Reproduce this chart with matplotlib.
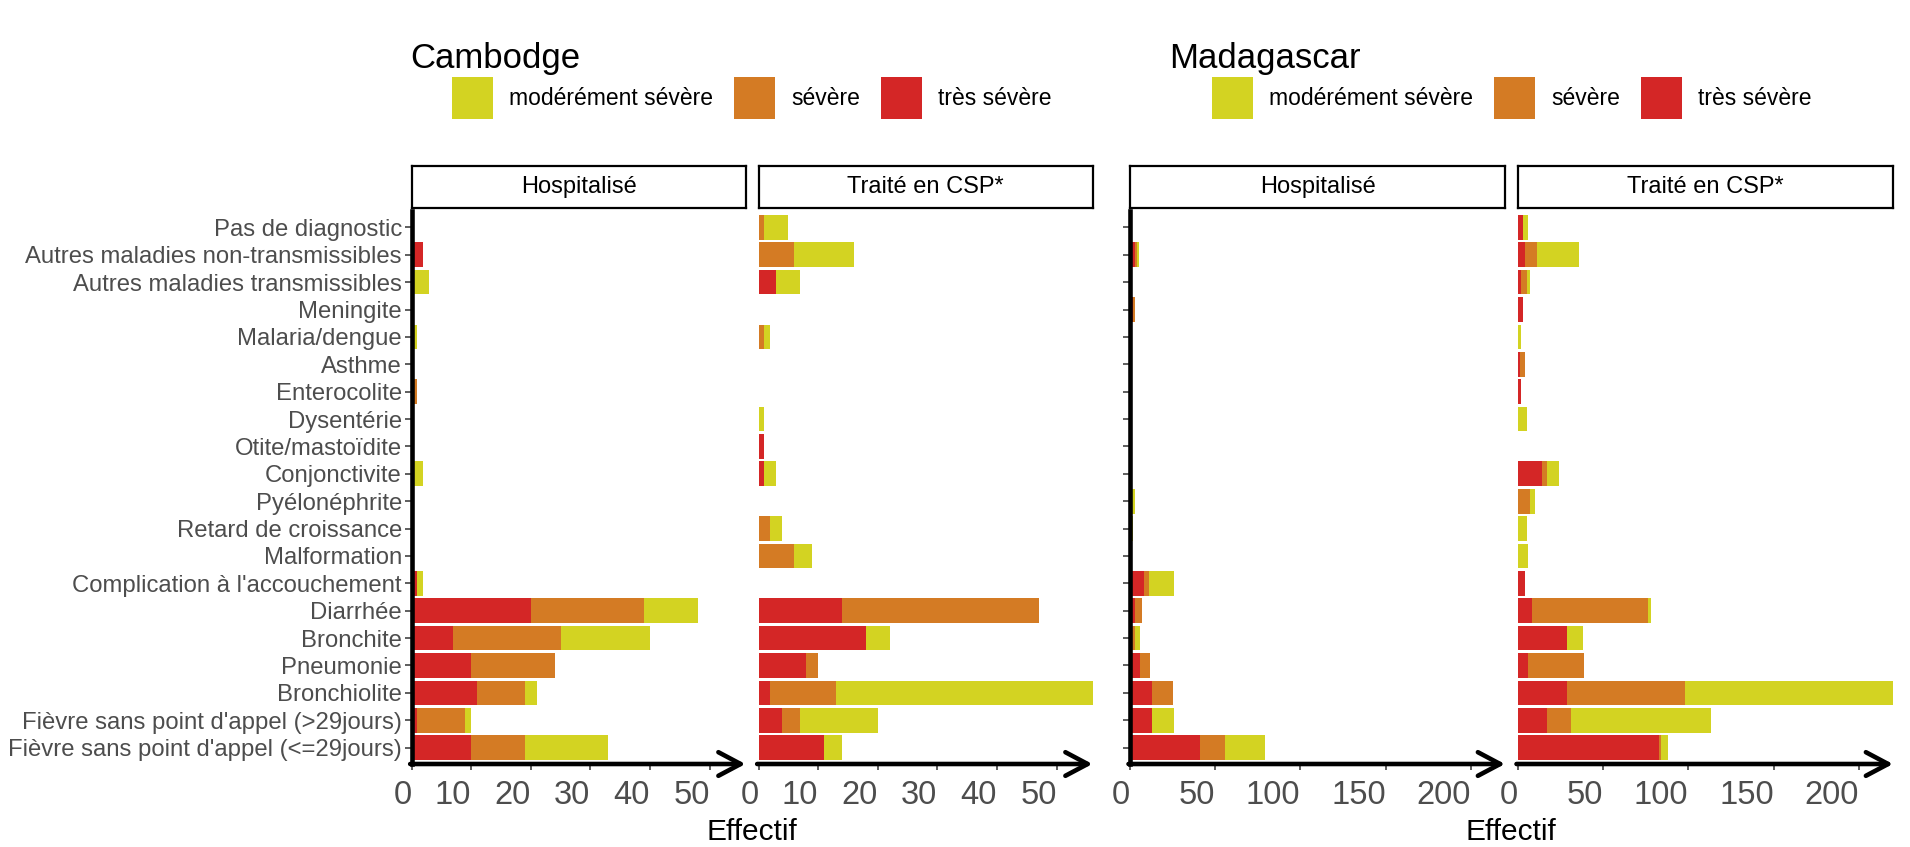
import numpy as np
import matplotlib.pyplot as plt
from matplotlib.patches import Patch

plt.rcParams['font.family'] = ['Liberation Sans', 'DejaVu Sans']

categories = [
    "Pas de diagnostic", "Autres maladies non-transmissibles",
    "Autres maladies transmissibles", "Meningite", "Malaria/dengue",
    "Asthme", "Enterocolite", "Dysentérie", "Otite/mastoïdite",
    "Conjonctivite", "Pyélonéphrite", "Retard de croissance",
    "Malformation", "Complication à l'accouchement", "Diarrhée",
    "Bronchite", "Pneumonie", "Bronchiolite",
    "Fièvre sans point d'appel (>29jours)",
    "Fièvre sans point d'appel (<=29jours)",
]
severites = ["modérément sévère", "sévère", "très sévère"]
couleurs = {"très sévère": "#D42626", "sévère": "#D47B24", "modérément sévère": "#D3D322"}
facettes = ["Hospitalisé", "Traité en CSP*"]

# Cambodge
cam_hosp_tres = [0, 2, 0, 0, 0, 0, 0, 0, 0, 0, 0, 0, 0, 1, 20, 7, 10, 11, 1, 10]
cam_hosp_sev = [0, 0, 0, 0, 0, 0, 1, 0, 0, 0, 0, 0, 0, 0, 19, 18, 14, 8, 8, 9]
cam_hosp_mod = [0, 0, 3, 0, 1, 0, 0, 0, 0, 2, 0, 0, 0, 1, 9, 15, 0, 2, 1, 14]
cam_csp_tres = [0, 0, 3, 0, 0, 0, 0, 0, 1, 1, 0, 0, 0, 0, 14, 18, 8, 2, 4, 11]
cam_csp_sev = [1, 6, 0, 0, 1, 0, 0, 0, 0, 0, 0, 2, 6, 0, 33, 0, 2, 11, 3, 0]
cam_csp_mod = [4, 10, 4, 0, 1, 0, 0, 1, 0, 2, 0, 2, 3, 0, 0, 4, 0, 43, 13, 3]

# Madagascar
mad_hosp_tres = [0, 3, 0, 2, 0, 0, 0, 0, 0, 0, 0, 0, 0, 8, 3, 1, 6, 13, 13, 41]
mad_hosp_sev = [0, 1, 0, 1, 0, 0, 0, 0, 0, 0, 0, 0, 0, 3, 4, 2, 6, 12, 0, 15]
mad_hosp_mod = [0, 1, 0, 0, 0, 0, 0, 0, 0, 0, 3, 2, 0, 15, 0, 3, 0, 0, 13, 23]
mad_csp_tres = [3, 4, 2, 3, 0, 1, 2, 0, 0, 14, 0, 0, 0, 4, 8, 29, 6, 29, 17, 83]
mad_csp_sev = [0, 7, 3, 0, 0, 3, 0, 0, 0, 3, 7, 0, 0, 0, 68, 0, 33, 69, 14, 1]
mad_csp_mod = [3, 25, 2, 0, 2, 0, 0, 5, 0, 7, 3, 5, 6, 0, 2, 9, 0, 122, 82, 4]

pays = [
    ("Cambodge", [(cam_hosp_tres, cam_hosp_sev, cam_hosp_mod),
                  (cam_csp_tres, cam_csp_sev, cam_csp_mod)], [0, 10, 20, 30, 40, 50]),
    ("Madagascar", [(mad_hosp_tres, mad_hosp_sev, mad_hosp_mod),
                    (mad_csp_tres, mad_csp_sev, mad_csp_mod)], [0, 50, 100, 150, 200]),
]

W, H = 1910, 847
fig = plt.figure(figsize=(W / 100, H / 100), dpi=100)

# panel layout in pixels (left, width)
panel_px = [[(411.5, 334), (758.5, 334)], [(1130, 375), (1518, 375)]]
titre_x = [410, 1169]
legende_x = [452, 1212]
effectif_x = [752, 1511]
top_px, bot_px = 211, 764
strip_top, strip_bot = 166, 208

y = np.arange(len(categories))
gris = "#4D4D4D"

for p, (nom, donnees, ticks) in enumerate(pays):
    xmax = max((np.array(a) + np.array(b) + np.array(c)).max() for a, b, c in donnees)
    for f, (tres, sev, mod) in enumerate(donnees):
        left, width = panel_px[p][f]
        ax = fig.add_axes([left / W, 1 - bot_px / H, width / W, (bot_px - top_px) / H])
        gauche = np.zeros(len(categories))
        for nom_sev, vals in [("très sévère", tres), ("sévère", sev), ("modérément sévère", mod)]:
            ax.barh(y, vals, left=gauche, height=0.9, color=couleurs[nom_sev], linewidth=0)
            gauche += np.array(vals)
        ax.set_xlim(0, xmax)
        ax.set_ylim(len(categories) - 0.4, -0.6)
        for s in ["top", "right", "bottom"]:
            ax.spines[s].set_visible(False)
        ax.set_xticks(ticks)
        ax.set_xticklabels([str(t) for t in ticks], fontsize=23.5, color=gris)
        for lab in ax.get_xticklabels():
            lab.set_ha("right")
        ax.tick_params(axis="x", length=4.5, width=1.1, color="#333333", pad=7)
        if f == 0:
            ax.spines["left"].set_linewidth(3.3)
            ax.spines["left"].set_color("black")
            ax.set_yticks(y)
            if p == 0:
                ax.set_yticklabels(categories, fontsize=17.2, color=gris)
            else:
                ax.set_yticklabels([])
            ax.tick_params(axis="y", length=5, width=1.1, color="#333333", pad=2)
        else:
            ax.spines["left"].set_visible(False)
            ax.set_yticks([])
        ax.annotate("", xy=(1, 0), xytext=(-0.004, 0), xycoords="axes fraction",
                    arrowprops=dict(arrowstyle="->,head_length=16,head_width=8.5", lw=3.3,
                                    color="black", shrinkA=0, shrinkB=0, mutation_scale=1),
                    annotation_clip=False)

        # strip
        sax = fig.add_axes([left / W, 1 - strip_bot / H, width / W, (strip_bot - strip_top) / H])
        sax.set_xticks([])
        sax.set_yticks([])
        for s in sax.spines.values():
            s.set_linewidth(1.6)
            s.set_color("black")
        sax.text(0.5, 0.5, facettes[f], ha="center", va="center", fontsize=17,
                 transform=sax.transAxes)

    fig.text(titre_x[p] / W, 1 - 68 / H, nom, fontsize=25, va="baseline", ha="left")
    fig.text(effectif_x[p] / W, 1 - 832 / H, "Effectif", fontsize=21.5, ha="center", va="center")
    poignees = [Patch(facecolor=couleurs[s], edgecolor="none") for s in severites]
    fig.legend(poignees, severites, ncol=3, loc="center left",
               bbox_to_anchor=(legende_x[p] / W, 1 - 98 / H), frameon=False,
               fontsize=16.5, handlelength=1.8, handleheight=2.5, handletextpad=0.7,
               columnspacing=0.9, borderpad=0, borderaxespad=0)

fig.savefig("out.png", dpi=100)
